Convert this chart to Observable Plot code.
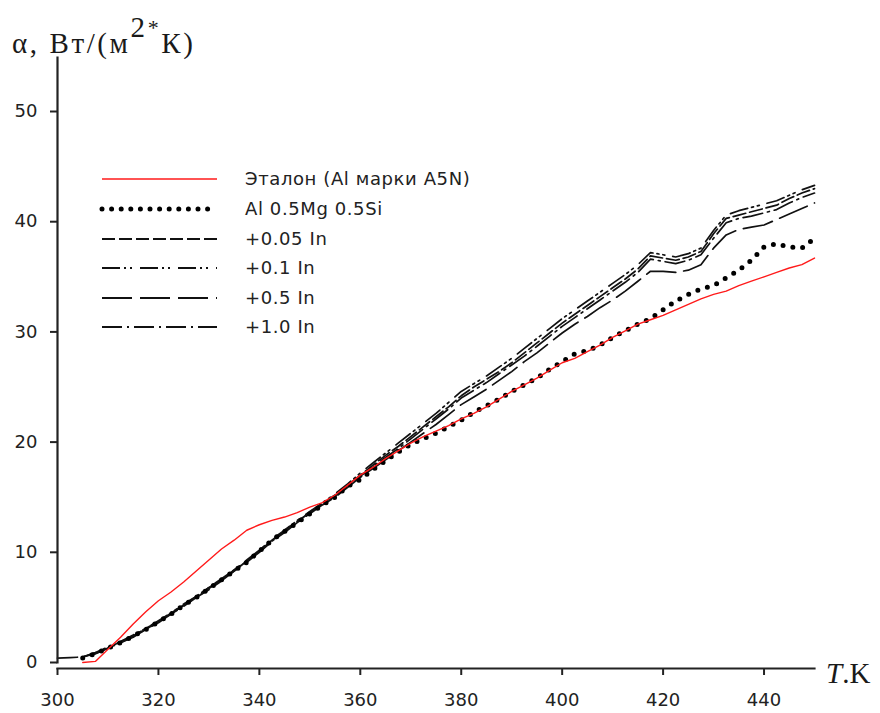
<!DOCTYPE html>
<html>
<head>
<meta charset="utf-8">
<script src="https://cdn.jsdelivr.net/npm/d3@7"></script>
<script src="https://cdn.jsdelivr.net/npm/@observablehq/plot@0.6"></script>
<style>
  body { margin: 0; background: #fff; }
  #wrap { width: 880px; height: 713px; overflow: hidden; background: #fff; }
</style>
</head>
<body>
<div id="wrap"></div>
<script>
// ---- data ----
const temps = [305,307.5,310,312.5,315,317.5,320,322.5,325,327.5,330,332.5,335,337.5,340,342.5,345,347.5,350,352.5,355,357.5,
  360,362.5,365,367.5,370,372.5,375,377.5,380,382.5,385,387.5,390,392.5,395,397.5,
  400,402.5,405,407.5,410,412.5,415,417.5,420,422.5,425,427.5,430,432.5,435,437.5,440,442.5,445,447.5,450];

const etalon = [0,0.1,1.2,2.3,3.5,4.6,5.6,6.4,7.3,8.3,9.3,10.3,11.1,12.0,12.5,12.9,13.2,13.6,14.1,14.5,15.2,16.1,
  17.0,17.7,18.5,19.2,19.9,20.5,21.0,21.5,22.1,22.6,23.2,23.9,24.6,25.2,25.8,26.5,
  27.2,27.6,28.2,28.8,29.5,30.1,30.7,31.1,31.5,32.0,32.5,33.0,33.4,33.7,34.2,34.6,35.0,35.4,35.8,36.1,36.7];

const alMgSi = [0.4,0.8,1.3,1.8,2.4,3.0,3.7,4.4,5.2,5.9,6.7,7.5,8.3,9.1,10.1,11.1,11.9,12.7,13.5,14.3,15.0,16.0,
  16.6,17.5,18.3,19.1,19.8,20.3,20.8,21.4,22.0,22.7,23.3,23.9,24.6,25.2,25.8,26.6,
  27.3,28.0,28.3,28.8,29.5,30.1,30.7,31.2,32.0,32.8,33.4,33.9,34.2,34.9,35.6,36.5,37.7,38.0,37.7,37.6,38.5];

const in005 = [0.5,0.9,1.3,1.9,2.4,3.1,3.7,4.5,5.2,6.0,6.8,7.5,8.4,9.2,10.1,11.1,12.0,12.8,13.6,14.4,15.2,16.1,
  17.0,17.9,18.8,19.6,20.5,21.4,22.3,23.2,24.2,25.0,25.7,26.4,27.2,28.1,29.0,29.9,
  30.8,31.6,32.4,33.2,34.0,34.8,35.7,36.9,36.7,36.5,36.8,37.3,38.9,40.3,40.6,40.9,41.2,41.5,42.1,42.6,43.0];

const in01 = [0.5,0.9,1.4,1.9,2.5,3.1,3.8,4.5,5.3,6.0,6.8,7.6,8.4,9.3,10.2,11.2,12.0,12.9,13.7,14.5,15.3,16.2,
  17.2,18.1,19.0,19.9,20.8,21.7,22.6,23.6,24.6,25.3,26.0,26.8,27.6,28.5,29.4,30.3,
  31.2,32.0,32.8,33.6,34.4,35.2,36.1,37.2,37.0,36.8,37.1,37.6,39.2,40.6,41.0,41.3,41.6,41.9,42.4,42.9,43.3];

const in05 = [0.5,0.8,1.3,1.8,2.3,3.0,3.6,4.4,5.1,5.9,6.6,7.4,8.3,9.1,10.0,11.0,11.8,12.7,13.5,14.3,15.0,15.9,
  16.8,17.6,18.4,19.2,20.0,20.8,21.6,22.5,23.4,24.1,24.8,25.6,26.4,27.3,28.1,29.0,
  29.9,30.7,31.4,32.2,32.9,33.7,34.6,35.5,35.5,35.4,35.6,36.1,37.6,38.8,39.3,39.5,39.7,40.2,40.7,41.2,41.7];

const in10LeadT = [300, 302.5];
const in10LeadV = [0.4, 0.45];
const in10 = [0.5,0.8,1.3,1.8,2.4,3.0,3.7,4.4,5.2,5.9,6.7,7.5,8.3,9.2,10.1,11.0,11.9,12.8,13.6,14.4,15.1,16.0,
  16.9,17.8,18.6,19.4,20.3,21.2,22.1,23.0,24.0,24.7,25.4,26.2,27.0,27.8,28.7,29.6,
  30.5,31.3,32.1,32.9,33.7,34.5,35.4,36.6,36.4,36.2,36.5,37.0,38.5,39.9,40.3,40.5,40.8,41.1,41.7,42.2,42.6];

const seriesNames = ["Эталон (Al марки A5N)", "Al 0.5Mg 0.5Si", "+0.05 In", "+0.1 In", "+0.5 In", "+1.0 In"];
const xTicks = [300, 320, 340, 360, 380, 400, 420, 440];
const yTicks = [0, 10, 20, 30, 40, 50];
const xDomain = [300, 450];
const yDomain = [-0.544, 54.9];

// ---- styles ----
const styles = [
  {stroke: "#ff1a1a", strokeWidth: 1.4, strokeDasharray: null},
  {stroke: "#000", strokeWidth: 5, strokeDasharray: "0 10"},
  {stroke: "#111", strokeWidth: 1.7, strokeDasharray: "13 4"},
  {stroke: "#111", strokeWidth: 1.7, strokeDasharray: "18 4 2 4 2 8"},
  {stroke: "#111", strokeWidth: 1.7, strokeDasharray: "30 8"},
  {stroke: "#111", strokeWidth: 1.7, strokeDasharray: "20 5 2 5"}
];

const toRows = (ts, vs) => ts.map((t, i) => ({T: t, v: vs[i]}));
const seriesData = [
  toRows(temps, etalon),
  toRows(temps, alMgSi),
  toRows(temps, in005),
  toRows(temps, in01),
  toRows(temps, in05),
  toRows(in10LeadT.concat(temps), in10LeadV.concat(in10))
];

const lineMarks = seriesData.map((d, i) => Plot.line(d, {
  x: "T", y: "v",
  stroke: styles[i].stroke,
  strokeWidth: styles[i].strokeWidth,
  strokeDasharray: styles[i].strokeDasharray || undefined,
  strokeLinecap: "round"
}));

// draw order: black lines first, then dotted, then red
const order = [2, 3, 4, 5, 1, 0];

// axis lines as two-point paths through the scales
const yAxisLine = [{x: xDomain[0], y: 0}, {x: xDomain[0], y: yDomain[1]}];
const xAxisLine = [{x: xDomain[0], y: yDomain[0]}, {x: xDomain[1], y: yDomain[0]}];

const chart = Plot.plot({
  width: 880,
  height: 713,
  marginLeft: 57,
  marginRight: 66,
  marginTop: 57,
  marginBottom: 45,
  style: {fontFamily: "DejaVu Sans", fontSize: "18px"},
  x: {domain: xDomain},
  y: {domain: yDomain},
  marks: [
    ...order.map(i => lineMarks[i]),
    Plot.axisY({ticks: yTicks, tickSize: 7, tickPadding: 13, label: null, color: "#222", strokeWidth: 2}),
    Plot.axisX({ticks: xTicks, tickSize: 7, tickPadding: 18, label: null, color: "#222", strokeWidth: 2}),
    Plot.line(yAxisLine, {x: "x", y: "y", stroke: "#222", strokeWidth: 2.2, strokeLinecap: "square"}),
    Plot.line(xAxisLine, {x: "x", y: "y", stroke: "#222", strokeWidth: 2.2, strokeLinecap: "square"})
  ]
});

document.getElementById("wrap").appendChild(chart);

// ---- titles and legend, added into the same svg ----
const ov = d3.select(chart).append("g")
  .attr("class", "annotations")
  .attr("text-anchor", "start");

// y title
const yt = ov.append("text")
  .attr("x", 12).attr("y", 53)
  .attr("font-family", "Liberation Serif")
  .attr("font-size", 29)
  .attr("letter-spacing", 2.6)
  .attr("fill", "#1a1a1a");
yt.append("tspan").text("α, Вт/(м");
yt.append("tspan").attr("dy", -16).text("2");
yt.append("tspan").attr("font-size", 22).attr("dy", -2).text("*");
yt.append("tspan").attr("dy", 18).text("К)");

// x title
const xt = ov.append("text")
  .attr("x", 826).attr("y", 683)
  .attr("font-family", "Liberation Serif")
  .attr("font-size", 29)
  .attr("fill", "#1a1a1a");
xt.append("tspan").attr("font-style", "italic").text("T");
xt.append("tspan").text(".K");

// legend
const legendY = [179, 209, 239, 268, 298, 327];
seriesNames.forEach((name, i) => {
  const s = styles[i];
  const ln = ov.append("line")
    .attr("x1", 102).attr("x2", 217)
    .attr("y1", legendY[i]).attr("y2", legendY[i])
    .attr("stroke", s.stroke)
    .attr("stroke-width", i === 1 ? 5 : (i === 0 ? 1.6 : 2))
    .attr("stroke-linecap", i === 1 ? "round" : "butt");
  if (s.strokeDasharray) ln.attr("stroke-dasharray", i === 1 ? "0 9.6" : s.strokeDasharray);
  ov.append("text")
    .attr("x", 245).attr("y", legendY[i] + 6)
    .attr("font-family", "DejaVu Sans")
    .attr("font-size", 18)
    .attr("letter-spacing", 0.6)
    .attr("fill", "#222")
    .text(name);
});
</script>
</body>
</html>
